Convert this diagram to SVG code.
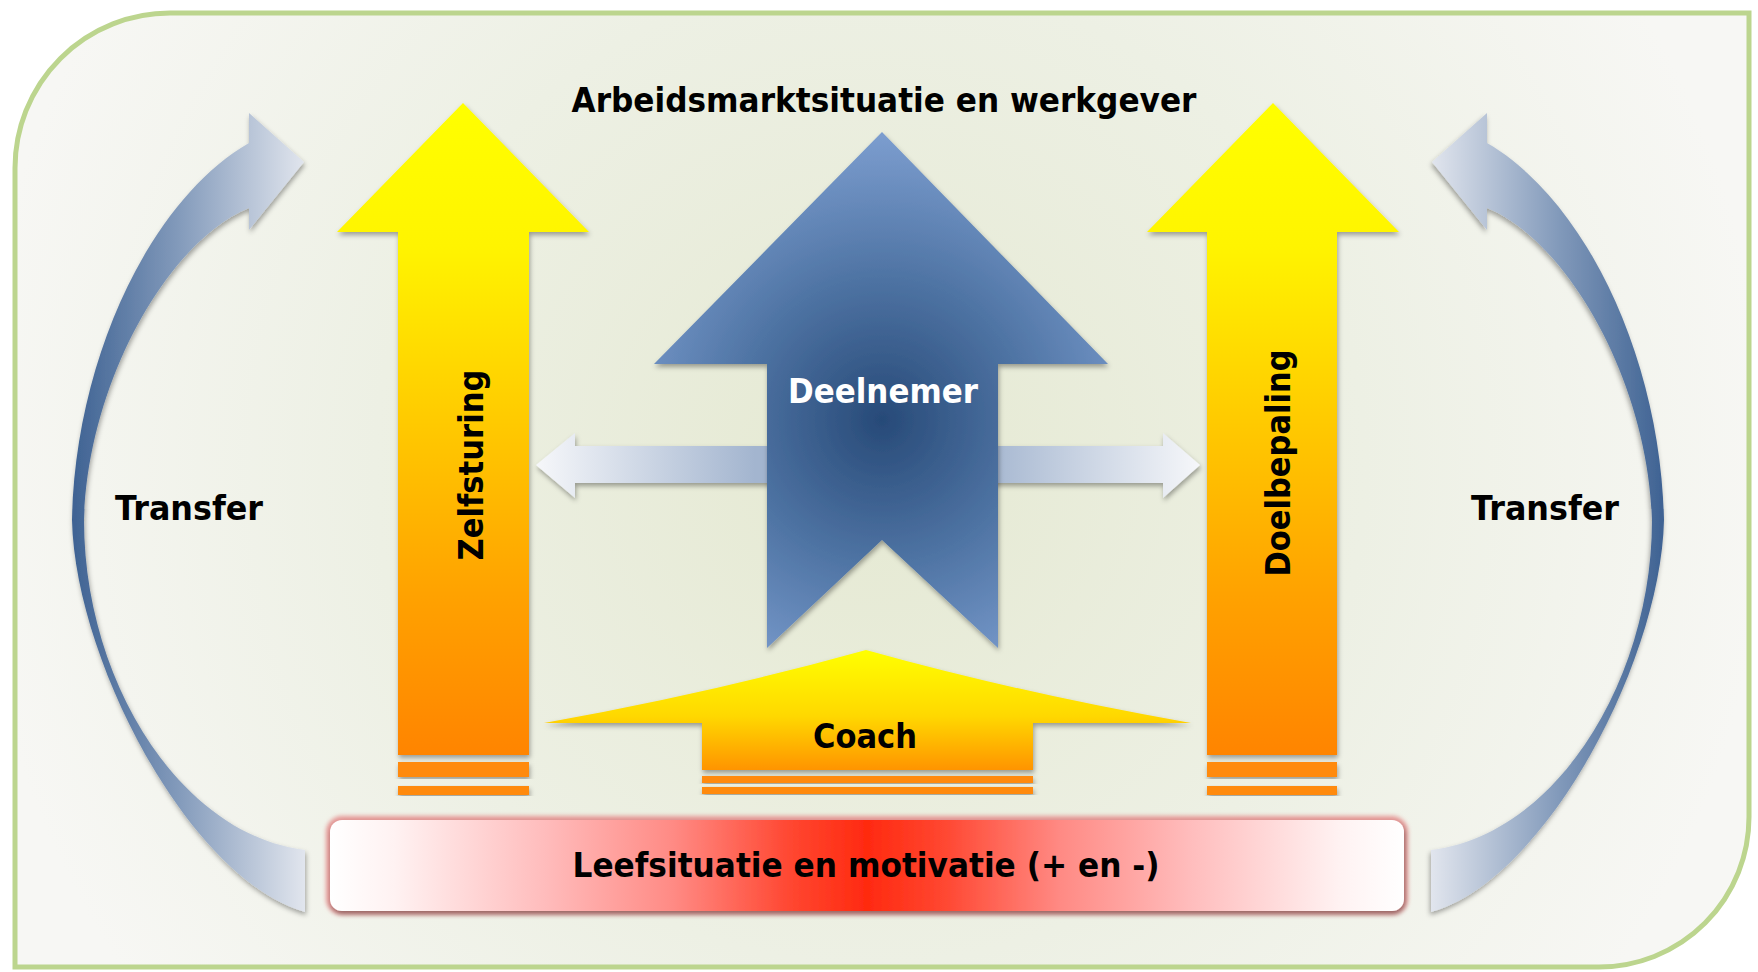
<svg xmlns="http://www.w3.org/2000/svg" width="1758" height="972" viewBox="0 0 1758 972">
<defs>
<radialGradient id="bg" cx="870" cy="470" r="900" gradientUnits="userSpaceOnUse">
<stop offset="0" stop-color="#e5e9d2"/>
<stop offset="0.55" stop-color="#edf0e4"/>
<stop offset="1" stop-color="#f7f7f4"/>
</radialGradient>
<linearGradient id="yel" x1="0" y1="103" x2="0" y2="757" gradientUnits="userSpaceOnUse">
<stop offset="0" stop-color="#ffff00"/>
<stop offset="0.22" stop-color="#fff400"/>
<stop offset="0.5" stop-color="#ffc800"/>
<stop offset="0.75" stop-color="#ffa200"/>
<stop offset="1" stop-color="#ff8400"/>
</linearGradient>
<linearGradient id="coachG" x1="0" y1="650" x2="0" y2="770" gradientUnits="userSpaceOnUse">
<stop offset="0" stop-color="#ffff00"/>
<stop offset="0.55" stop-color="#ffd800"/>
<stop offset="1" stop-color="#ff9400"/>
</linearGradient>
<radialGradient id="blueG" cx="882" cy="420" r="330" gradientUnits="userSpaceOnUse">
<stop offset="0" stop-color="#274a78"/>
<stop offset="0.45" stop-color="#5075a5"/>
<stop offset="1" stop-color="#8aaadc"/>
</radialGradient>
<linearGradient id="dblG" x1="536" y1="0" x2="1200" y2="0" gradientUnits="userSpaceOnUse">
<stop offset="0" stop-color="#f6f7fa"/>
<stop offset="0.33" stop-color="#a3b5cf"/>
<stop offset="0.67" stop-color="#a3b5cf"/>
<stop offset="1" stop-color="#f6f7fa"/>
</linearGradient>
<linearGradient id="curveG" x1="70" y1="0" x2="306" y2="0" gradientUnits="userSpaceOnUse">
<stop offset="0" stop-color="#3d6192"/>
<stop offset="0.45" stop-color="#8199ba"/>
<stop offset="1" stop-color="#e2e6ee"/>
</linearGradient>
<linearGradient id="leefG" x1="330" y1="0" x2="1404" y2="0" gradientUnits="userSpaceOnUse">
<stop offset="0" stop-color="#ffffff"/>
<stop offset="0.06" stop-color="#fff2f2"/>
<stop offset="0.2" stop-color="#ffbcbc"/>
<stop offset="0.32" stop-color="#ff8a84"/>
<stop offset="0.43" stop-color="#ff4630"/>
<stop offset="0.5" stop-color="#ff2a10"/>
<stop offset="0.57" stop-color="#ff4630"/>
<stop offset="0.68" stop-color="#ff8a84"/>
<stop offset="0.8" stop-color="#ffbcbc"/>
<stop offset="0.94" stop-color="#fff2f2"/>
<stop offset="1" stop-color="#ffffff"/>
</linearGradient>
<filter id="sh" x="-10%" y="-10%" width="120%" height="120%">
<feDropShadow dx="1" dy="3" stdDeviation="2.5" flood-color="#000" flood-opacity="0.35"/>
</filter>
<filter id="glow" x="-5%" y="-20%" width="110%" height="140%">
<feGaussianBlur stdDeviation="2"/>
</filter>
</defs>
<style>
.t{font-family:"DejaVu Sans","Liberation Sans",sans-serif;font-weight:bold;font-size:33px;fill:#000;text-anchor:middle}
.w{fill:#fff}
.stripe{fill:#ff8a10}
</style>
<rect width="1758" height="972" fill="#fff"/>
<g id="frame">
<path d="M15,967 L15,168 A155,155 0 0 1 170,13 L1749,13 L1749,817 A150,150 0 0 1 1599,967 Z" fill="url(#bg)" stroke="#bcd58e" stroke-width="5"/>
</g>
<g id="transfer-left">
<path d="M305,850 C180,835 84,680 84,520 C88,380 170,240 249,208 L249,230 L304,162 L249,113 L249,143 C150,200 75,360 72,520 C75,660 190,880 305,912 Z" fill="url(#curveG)" filter="url(#sh)"/>
<text class="t" x="189" y="520" textLength="148" lengthAdjust="spacingAndGlyphs">Transfer</text>
</g>
<g id="transfer-right">
<path transform="matrix(-1 0 0 1 1736 0)" d="M305,850 C180,835 84,680 84,520 C88,380 170,240 249,208 L249,230 L304,162 L249,113 L249,143 C150,200 75,360 72,520 C75,660 190,880 305,912 Z" fill="url(#curveG)" filter="url(#sh)"/>
<text class="t" x="1545" y="520" textLength="148" lengthAdjust="spacingAndGlyphs">Transfer</text>
</g>
<g id="zelfsturing">
<path d="M463,103 L589,232 L529,232 L529,755 L398,755 L398,232 L337,232 Z" fill="url(#yel)" filter="url(#sh)"/>
<rect class="stripe" x="398" y="762" width="131" height="15" filter="url(#sh)"/>
<rect class="stripe" x="398" y="786" width="131" height="9" filter="url(#sh)"/>
<text class="t" transform="translate(483,465) rotate(-90)" x="0" y="0" textLength="191" lengthAdjust="spacingAndGlyphs">Zelfsturing</text>
</g>
<g id="doelbepaling">
<path d="M1273,103 L1399,232 L1337,232 L1337,755 L1207,755 L1207,232 L1147,232 Z" fill="url(#yel)" filter="url(#sh)"/>
<rect class="stripe" x="1207" y="762" width="130" height="15" filter="url(#sh)"/>
<rect class="stripe" x="1207" y="786" width="130" height="9" filter="url(#sh)"/>
<text class="t" transform="translate(1290,463) rotate(-90)" x="0" y="0" textLength="227" lengthAdjust="spacingAndGlyphs">Doelbepaling</text>
</g>
<g id="connectors">
<path d="M536,465 L575,433 L575,446 L1163,446 L1163,433 L1200,465 L1163,498 L1163,483 L575,483 L575,498 Z" fill="url(#dblG)" filter="url(#sh)"/>
</g>
<g id="deelnemer">
<path d="M882,132 L1108,364 L998,364 L998,648 L882,540 L767,648 L767,364 L654,364 Z" fill="url(#blueG)" filter="url(#sh)"/>
<text class="t w" x="883" y="403" textLength="190" lengthAdjust="spacingAndGlyphs">Deelnemer</text>
</g>
<g id="coach">
<path d="M544,723 Q712,693 866,650 Q1020,693 1191,723 L1033,723 L1033,770 L702,770 L702,723 Z" fill="url(#coachG)" filter="url(#sh)"/>
<rect class="stripe" x="702" y="776" width="331" height="7" filter="url(#sh)"/>
<rect class="stripe" x="702" y="787" width="331" height="7" filter="url(#sh)"/>
<text class="t" x="865" y="748" textLength="104" lengthAdjust="spacingAndGlyphs">Coach</text>
</g>
<g id="leefsituatie">
<rect x="330" y="820" width="1074" height="91" rx="12" fill="none" stroke="#e69896" stroke-width="8" filter="url(#glow)"/>
<rect x="330" y="820" width="1074" height="91" rx="12" fill="url(#leefG)" filter="url(#sh)"/>
<text class="t" x="866" y="877" textLength="587" lengthAdjust="spacingAndGlyphs">Leefsituatie en motivatie (+ en -)</text>
</g>
<g id="title">
<text class="t" x="884" y="112" font-size="34" textLength="625" lengthAdjust="spacingAndGlyphs">Arbeidsmarktsituatie en werkgever</text>
</g>
</svg>
